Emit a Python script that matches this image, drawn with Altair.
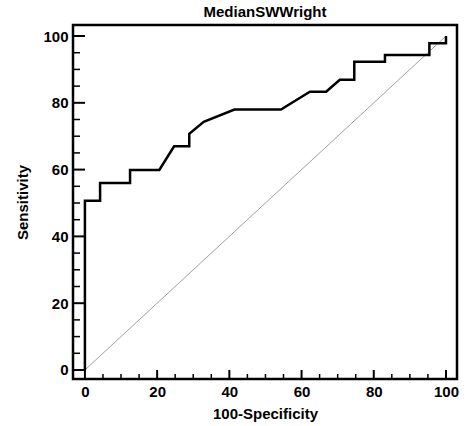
import altair as alt
import pandas as pd

# ROC curve points (100-Specificity, Sensitivity)
roc_x = [0, 0, 4.2, 4.2, 12.5, 12.5, 20.6, 24.7, 28.9, 28.9, 32.9, 41.4, 54.3, 62.3, 66.8, 70.6, 74.6, 74.6, 83.1, 83.1, 95.4, 95.4, 100, 100]
roc_y = [0, 50.7, 50.7, 56.0, 56.0, 59.9, 59.9, 67.0, 67.0, 70.7, 74.3, 78.0, 78.0, 83.3, 83.3, 86.9, 86.9, 92.3, 92.3, 94.3, 94.3, 97.8, 97.8, 100]
diag = [0, 100]

major_ticks = [0, 20, 40, 60, 80, 100]
minor_ticks = [5, 10, 15, 25, 30, 35, 45, 50, 55, 65, 70, 75, 85, 90, 95]

FONT = "Liberation Sans"

roc_df = pd.DataFrame({"x": roc_x, "y": roc_y, "i": list(range(len(roc_x)))})
diag_df = pd.DataFrame({"x": diag, "y": diag})
major_df = pd.DataFrame({"v": major_ticks})
minor_df = pd.DataFrame({"v": minor_ticks})

xscale = alt.Scale(domain=[-3.3, 103.05], nice=False, zero=False)
yscale = alt.Scale(domain=[-2.7, 103.3], nice=False, zero=False)

xaxis = alt.Axis(values=major_ticks, ticks=False, domain=False, grid=False,
                 labelPadding=5, labelFont=FONT, labelFontSize=15, labelFontWeight="bold",
                 labelColor="black", title="100-Specificity", titleFont=FONT, titleFontSize=15,
                 titleFontWeight="bold", titleColor="black", titlePadding=7)
yaxis = alt.Axis(values=major_ticks, ticks=False, domain=False, grid=False,
                 labelPadding=5, labelFont=FONT, labelFontSize=15, labelFontWeight="bold",
                 labelColor="black", title="Sensitivity", titleFont=FONT, titleFontSize=15,
                 titleFontWeight="bold", titleColor="black", titlePadding=12)

X = lambda f: alt.X(f, type="quantitative", scale=xscale, axis=xaxis)
Y = lambda f: alt.Y(f, type="quantitative", scale=yscale, axis=yaxis)

diag_layer = alt.Chart(diag_df).mark_line(color="#888888", strokeWidth=0.8).encode(
    x=X("x"), y=Y("y"))

roc_layer = alt.Chart(roc_df).mark_line(color="black", strokeWidth=2.5, strokeJoin="miter").encode(
    x=X("x"), y=Y("y"), order="i:Q")

ytick_major = alt.Chart(major_df).mark_rule(color="black", strokeWidth=2).encode(
    y=Y("v"), x=alt.value(0), x2=alt.value(12))
ytick_minor = alt.Chart(minor_df).mark_rule(color="black", strokeWidth=1.5).encode(
    y=Y("v"), x=alt.value(0), x2=alt.value(7))
xtick_major = alt.Chart(major_df).mark_rule(color="black", strokeWidth=2).encode(
    x=X("v"), y=alt.value(354), y2=alt.value(345))
xtick_minor = alt.Chart(minor_df).mark_rule(color="black", strokeWidth=1.5).encode(
    x=X("v"), y=alt.value(354), y2=alt.value(349))

chart = alt.layer(diag_layer, ytick_major, ytick_minor, xtick_major, xtick_minor, roc_layer).properties(
    width=384, height=354,
    title=alt.TitleParams("MedianSWWright", font=FONT, fontSize=15, fontWeight="bold",
                          color="black", offset=5, anchor="middle"),
    autosize=alt.AutoSizeParams(type="none"),
    padding={"left": 73, "top": 25, "right": 11, "bottom": 47},
    background="white",
).configure_view(stroke="black", strokeWidth=2.5)

chart.save("out.html", embed_options={"renderer": "svg", "actions": False})
